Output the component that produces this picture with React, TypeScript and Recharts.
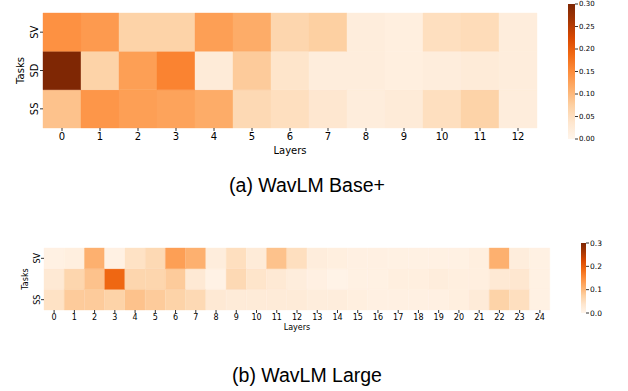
import React from 'react';
import { BarChart, Bar, XAxis, YAxis, Cell } from 'recharts';

// ---------- data ----------
const taskLabels = ['SS', 'SD', 'SV'];

const baseLayers = ['0', '1', '2', '3', '4', '5', '6', '7', '8', '9', '10', '11', '12'];
const baseSV = [0.145, 0.135, 0.07, 0.07, 0.13, 0.115, 0.065, 0.075, 0.02, 0.015, 0.05, 0.055, 0.02];
const baseSD = [0.3, 0.07, 0.13, 0.16, 0.025, 0.08, 0.04, 0.02, 0.02, 0.015, 0.02, 0.025, 0.02];
const baseSS = [0.09, 0.14, 0.13, 0.125, 0.115, 0.06, 0.05, 0.035, 0.02, 0.025, 0.05, 0.07, 0.02];

const largeLayers = ['0', '1', '2', '3', '4', '5', '6', '7', '8', '9', '10', '11', '12', '13', '14', '15', '16', '17', '18', '19', '20', '21', '22', '23', '24'];
const largeSV = [0.01, 0.015, 0.11, 0.01, 0.045, 0.06, 0.13, 0.11, 0.02, 0.05, 0.025, 0.09, 0.05, 0.02, 0.015, 0.012, 0.012, 0.01, 0.01, 0.01, 0.01, 0.015, 0.11, 0.02, 0.01];
const largeSD = [0.03, 0.065, 0.09, 0.19, 0.065, 0.065, 0.08, 0.03, 0.008, 0.06, 0.04, 0.03, 0.02, 0.012, 0.005, 0.01, 0.01, 0.015, 0.015, 0.02, 0.015, 0.015, 0.03, 0.035, 0.01];
const largeSS = [0.045, 0.08, 0.08, 0.07, 0.09, 0.08, 0.07, 0.06, 0.03, 0.025, 0.025, 0.025, 0.025, 0.02, 0.02, 0.015, 0.012, 0.012, 0.012, 0.012, 0.015, 0.025, 0.07, 0.05, 0.01];

const baseColorbarTicks = [0, 0.05, 0.1, 0.15, 0.2, 0.25, 0.3];
const largeColorbarTicks = [0, 0.1, 0.2, 0.3];
const vmax = 0.3;

// ---------- colormap (matplotlib Oranges) ----------
const orangeStops = ['#fff5eb', '#fee6ce', '#fdd0a2', '#fdae6b', '#fd8d3c', '#f16913', '#d94801', '#a63603', '#7f2704'];
const hex = (h: string) => [1, 3, 5].map((i) => parseInt(h.slice(i, i + 2), 16));
function cmap(t: number): string {
  const c = Math.max(0, Math.min(1, t)) * (orangeStops.length - 1);
  const i = Math.min(Math.floor(c), orangeStops.length - 2);
  const f = c - i;
  const a = hex(orangeStops[i]);
  const b = hex(orangeStops[i + 1]);
  const r = a.map((v, k) => Math.round(v + (b[k] - v) * f));
  return `rgb(${r[0]},${r[1]},${r[2]})`;
}

const FONT = 'DejaVu Sans, sans-serif';

function makeRows(layers: string[]) {
  return layers.map((l) => ({ layer: l, SS: 1, SD: 1, SV: 1 }));
}

const YTick = (fontSize: number, shift: number) => (props: any) => {
  const { x, y, payload } = props;
  return (
    <text
      transform={`translate(${x + shift},${y}) rotate(-90)`}
      textAnchor="middle"
      fontSize={fontSize}
      fontFamily={FONT}
      fill="#000"
    >
      {taskLabels[Math.floor(payload.value)]}
    </text>
  );
};

function Heatmap(props: {
  layers: string[];
  sv: number[];
  sd: number[];
  ss: number[];
  width: number;
  height: number;
  margin: any;
  yWidth: number;
  xHeight: number;
  fontSize: number;
  tickShift: number;
  tasksX: number;
  layersDy: number;
  xTickMargin: number;
}) {
  const { layers, sv, sd, ss, width, height, margin, yWidth, xHeight, fontSize, tickShift, tasksX, layersDy, xTickMargin } = props;
  const rows = makeRows(layers);
  const series: [string, number[]][] = [
    ['SS', ss],
    ['SD', sd],
    ['SV', sv],
  ];
  return (
    <BarChart width={width} height={height} data={rows} margin={margin} barCategoryGap={0} barGap={0}>
      <XAxis
        dataKey="layer"
        height={xHeight}
        axisLine={false}
        tickSize={3}
        tickMargin={xTickMargin}
        tick={{ fontSize, fontFamily: FONT, fill: '#000' }}
        tickLine={{ stroke: '#000', strokeWidth: 0.8 }}
        interval={0}
        label={{
          content: (p: any) => {
            const vb = p.viewBox;
            return (
              <text x={vb.x + vb.width / 2} y={vb.y + layersDy} textAnchor="middle" fontSize={fontSize} fontFamily={FONT} fill="#000">
                Layers
              </text>
            );
          },
        }}
      />
      <YAxis
        type="number"
        domain={[0, 3]}
        ticks={[0.5, 1.5, 2.5]}
        width={yWidth}
        axisLine={false}
        tickSize={3}
        tickMargin={2}
        tickLine={{ stroke: '#000', strokeWidth: 0.8 }}
        tick={YTick(fontSize, tickShift)}
        label={{
          content: (p: any) => {
            const vb = p.viewBox;
            const cy = vb.y + vb.height / 2;
            return (
              <text
                transform={`translate(${vb.x + tasksX},${cy}) rotate(-90)`}
                textAnchor="middle"
                fontSize={fontSize}
                fontFamily={FONT}
                fill="#000"
              >
                Tasks
              </text>
            );
          },
        }}
      />
      {series.map(([key, vals]) => (
        <Bar key={key} dataKey={key} stackId="s" isAnimationActive={false}>
          {vals.map((v, i) => {
            const c = cmap(v / vmax);
            return <Cell key={i} fill={c} stroke={c} strokeWidth={0.4} />;
          })}
        </Bar>
      ))}
    </BarChart>
  );
}

function Colorbar(props: { id: string; width: number; height: number; margin: any; ticks: number[]; digits: number; fontSize: number; yWidth: number }) {
  const { id, width, height, margin, ticks, digits, fontSize, yWidth } = props;
  return (
    <BarChart width={width} height={height} data={[{ name: 'cb', v: vmax }]} margin={margin} barCategoryGap={0}>
      <defs>
        <linearGradient id={id} x1="0" y1="1" x2="0" y2="0">
          {orangeStops.map((c, i) => (
            <stop key={i} offset={`${(i / (orangeStops.length - 1)) * 100}%`} stopColor={c} />
          ))}
        </linearGradient>
      </defs>
      <XAxis dataKey="name" hide />
      <YAxis
        orientation="right"
        type="number"
        domain={[0, vmax]}
        ticks={ticks}
        width={yWidth}
        axisLine={false}
        tickSize={3}
        tickMargin={1}
        tickLine={{ stroke: '#000', strokeWidth: 0.8 }}
        tick={{ fontSize, fontFamily: FONT, fill: '#000' }}
        tickFormatter={(v: number) => v.toFixed(digits)}
        interval={0}
      />
      <Bar dataKey="v" fill={`url(#${id})`} isAnimationActive={false} />
    </BarChart>
  );
}

export default function App() {
  return (
    <div style={{ position: 'absolute', left: 0, top: 0, width: 628, height: 391, background: '#fff', overflow: 'hidden' }}>
      <div style={{ position: 'absolute', left: 0, top: 0 }}>
        <Heatmap
          layers={baseLayers}
          sv={baseSV}
          sd={baseSD}
          ss={baseSS}
          width={628}
          height={160}
          margin={{ top: 13, right: 91, bottom: 0, left: 0 }}
          yWidth={43}
          xHeight={32}
          fontSize={10}
          tickShift={0}
          tasksX={24}
          layersDy={26}
          xTickMargin={2}
        />
      </div>
      <div style={{ position: 'absolute', left: 568, top: 0 }}>
        <Colorbar id="cbA" width={60} height={145} margin={{ top: 4, right: 0, bottom: 6, left: 0 }} ticks={baseColorbarTicks} digits={2} fontSize={7} yWidth={53} />
      </div>
      <div style={{ position: 'absolute', left: 0, top: 230 }}>
        <Heatmap
          layers={largeLayers}
          sv={largeSV}
          sd={largeSD}
          ss={largeSS}
          width={628}
          height={110}
          margin={{ top: 18, right: 78, bottom: 10, left: 0 }}
          yWidth={44}
          xHeight={20}
          fontSize={8}
          tickShift={1}
          tasksX={28}
          layersDy={19.5}
          xTickMargin={1}
        />
      </div>
      <div style={{ position: 'absolute', left: 581, top: 230 }}>
        <Colorbar id="cbB" width={47} height={90} margin={{ top: 13, right: 0, bottom: 7, left: 0 }} ticks={largeColorbarTicks} digits={1} fontSize={7.5} yWidth={42} />
      </div>
      <svg style={{ position: 'absolute', left: 0, top: 0 }} width={628} height={391}>
        <text x={307} y={192} textAnchor="middle" fontSize={19.5} fontFamily="Liberation Sans, Arial, sans-serif" fill="#000">
          (a) WavLM Base+
        </text>
        <text x={307} y={382} textAnchor="middle" fontSize={19.5} fontFamily="Liberation Sans, Arial, sans-serif" fill="#000">
          (b) WavLM Large
        </text>
      </svg>
    </div>
  );
}
